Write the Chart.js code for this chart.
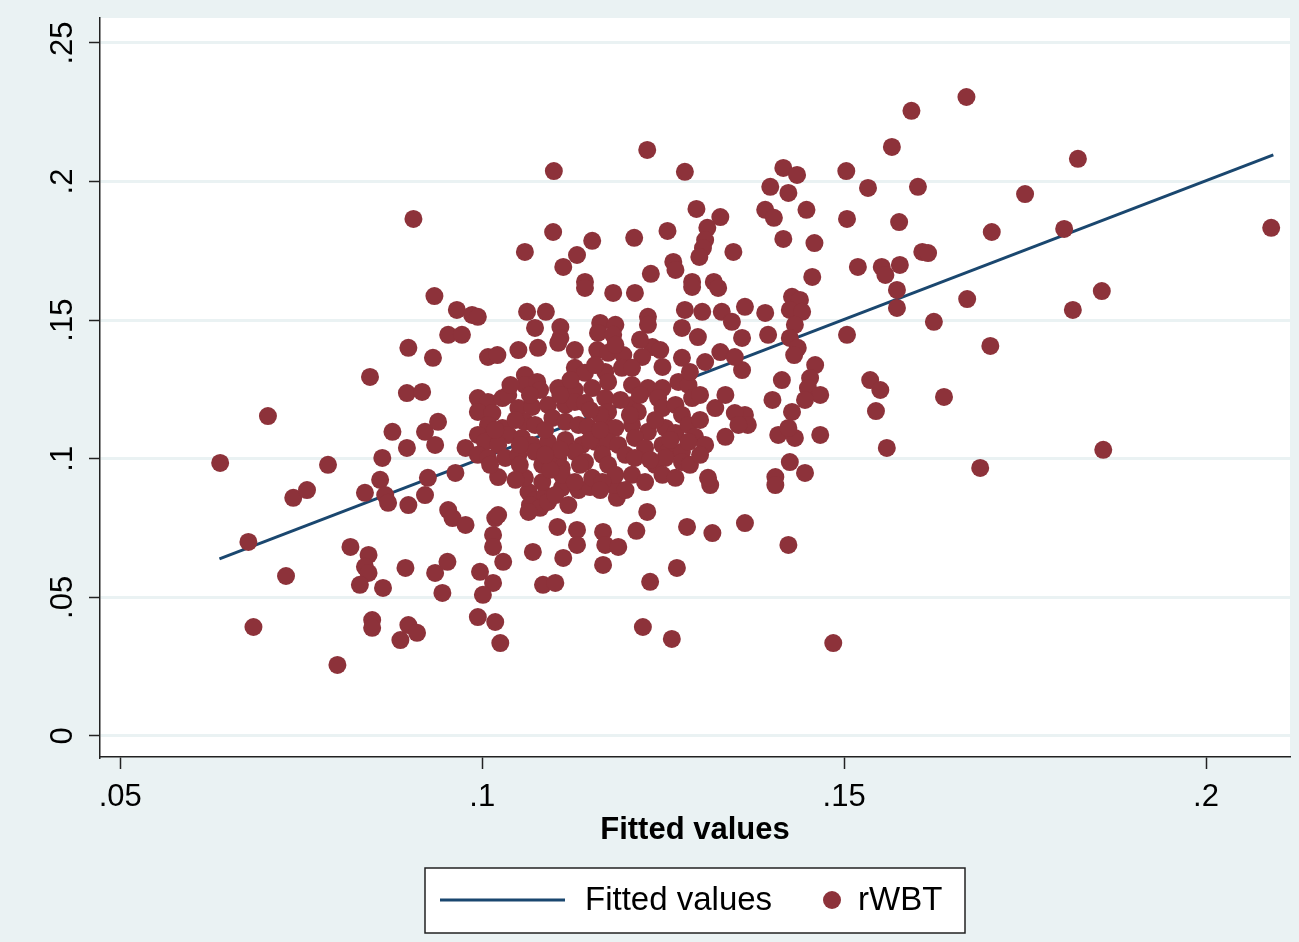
<!DOCTYPE html>
<html>
<head>
<meta charset="utf-8">
<script src="https://cdn.jsdelivr.net/npm/chart.js@4.4.1/dist/chart.umd.min.js"></script>
<style>
  html, body { margin: 0; padding: 0; background: #eaf2f3; }
  #wrap { width: 1299px; height: 942px; }
</style>
</head>
<body>
<div id="wrap"><canvas id="chart" width="1299" height="942"></canvas></div>
<script>
const xTicks = [0.05, 0.1, 0.15, 0.2];
const xTickLabels = [".05", ".1", ".15", ".2"];
const yTicks = [0, 0.05, 0.1, 0.15, 0.2, 0.25];
const yTickLabels = ["0", ".05", ".1", ".15", ".2", ".25"];

// fitted line, read at its two ends
const fitX = [0.0637, 0.2093];
const fitY = [0.0639, 0.2096];

// rWBT points [fitted value, rWBT]
const rwbt = [
  [.0638,.0985],[.0677,.0700],[.0684,.0393],[.0704,.1154],[.0729,.0577],[.0739,.0859],[.0758,.0887],[.0787,.0978],[.0800,.0256],[.0818,.0682],
  [.0838,.0877],[.0845,.1295],[.0843,.0653],[.0838,.0610],[.0843,.0588],[.0831,.0545],[.0863,.0534],[.0848,.0418],[.0848,.0390],[.0859,.0924],
  [.0862,.1003],[.0866,.0869],[.0870,.0841],[.0876,.1097],[.0887,.0346],[.0894,.0606],[.0898,.0833],[.0896,.1237],[.0898,.1400],[.0905,.1865],
  [.0898,.0400],[.0910,.0372],[.0896,.1039],[.0921,.1097],[.0917,.1241],[.0925,.0931],[.0921,.0869],[.0932,.1364],[.0934,.1587],[.0935,.0588],
  [.0952,.0628],[.0945,.0516],[.0939,.1133],[.0935,.1050],[.0953,.0815],[.0959,.0786],[.0953,.1447],[.0972,.1447],[.0965,.1537],[.0963,.0949],
  [.0977,.0761],[.0977,.1039],[.0986,.1519],
  [.1228,.2114],[.1099,.2038],[.1280,.2035],[.1296,.1901],[.1329,.1872],[.1098,.1818],[.1152,.1786],[.1210,.1797],[.1256,.1822],[.1059,.1746],
  [.1131,.1735],[.1112,.1692],[.1311,.1833],[.1308,.1789],[.1305,.1760],[.1300,.1728],[.1347,.1746],[.1264,.1710],[.1267,.1681],[.1233,.1667],
  [.1290,.1638],[.1320,.1638],[.1142,.1638],
  [.1669,.2305],[.1593,.2255],[.1566,.2125],[.1416,.2049],[.1435,.2024],[.1503,.2038],[.1398,.1981],[.1423,.1959],[.1533,.1977],[.1602,.1981],
  [.1391,.1898],[.1403,.1869],[.1448,.1898],[.1504,.1865],[.1576,.1854],[.1704,.1818],[.1416,.1793],[.1459,.1778],[.1608,.1746],[.1616,.1742],
  [.1519,.1692],[.1552,.1692],[.1557,.1663],[.1577,.1699],[.1456,.1656],
  [.1823,.2082],[.1750,.1955],[.1804,.1829],[.2090,.1833],[.1856,.1605],[.1816,.1537],[.1858,.1032],
  [.1573,.1609],[.1573,.1544],[.1670,.1576],[.1624,.1494],[.1702,.1407],[.1504,.1447],
  [.1428,.1584],[.1439,.1573],[.1425,.1537],[.1442,.1530],[.1432,.1483],[.1425,.1436],[.1436,.1400],[.1431,.1374],
  [.1391,.1526],[.1395,.1447],[.1363,.1548],[.1460,.1338],[.1414,.1284],[.1453,.1291],[.1450,.1255],[.1467,.1230],[.1446,.1212],[.1401,.1212],
  [.1428,.1169],[.1363,.1158],[.1367,.1122],[.1409,.1086],[.1432,.1075],[.1423,.1111],[.1467,.1086],[.1536,.1284],[.1550,.1248],[.1544,.1172],
  [.1638,.1223],[.1559,.1039],[.1425,.0988],[.1405,.0934],[.1446,.0949],[.1688,.0967],[.1359,.1320],
  [.1405,.0905],[.1363,.0768],[.1423,.0689],[.1485,.0335],
  [.1064,.0880],[.1073,.0851],[.1087,.0869],[.1066,.0833],[.1080,.0823],[.1091,.0844],[.1064,.0808],[.1119,.0833],[.1186,.0859],[.1228,.0808],
  [.1315,.0905],[.1104,.0754],[.1131,.0743],[.1131,.0689],[.1167,.0736],[.1170,.0689],[.1188,.0682],[.1213,.0740],[.1283,.0754],[.1318,.0732],
  [.1070,.0664],[.1112,.0642],[.1167,.0617],[.1269,.0606],[.1232,.0556],[.1084,.0545],[.1101,.0552],[.1018,.0786],[.1022,.0797],[.1015,.0725],
  [.1015,.0682],[.1029,.0628],[.0997,.0592],[.1015,.0552],[.1001,.0509],[.0994,.0429],[.1018,.0411],[.1025,.0335],[.1222,.0393],[.1262,.0350],
  [.1110,.0895],[.1133,.0887],[.1149,.0898],[.1181,.0905],
  [.1142,.1616],[.1181,.1598],[.1211,.1598],[.1290,.1620],[.1326,.1616],[.0994,.1512],[.1062,.1530],[.1088,.1530],[.1073,.1472],[.1108,.1475],
  [.1108,.1436],[.1163,.1490],[.1184,.1483],[.1160,.1454],[.1181,.1447],[.1229,.1512],[.1229,.1483],[.1280,.1537],[.1304,.1530],[.1331,.1530],
  [.1276,.1472],[.1298,.1439],[.1345,.1494],[.1359,.1436],[.1008,.1367],[.1021,.1374],[.1050,.1392],[.1077,.1400],[.1105,.1418],[.1128,.1392],
  [.1159,.1392],[.1174,.1382],[.1195,.1374],[.1235,.1403],[.1221,.1367],[.1249,.1331],[.1276,.1364],[.1308,.1349],[.1329,.1385],[.1349,.1367],
  [.1059,.1302],[.1059,.1266],[.1076,.1277],[.1128,.1328],[.1142,.1310],[.1170,.1313],[.1193,.1328],[.1207,.1328],[.1174,.1277],[.1105,.1255],
  [.1128,.1248],[.1152,.1255],[.1207,.1266],[.1229,.1255],[.1249,.1255],[.1271,.1277],[.1285,.1266],[.1290,.1219],[.0994,.1219],[.1008,.1205],
  [.1028,.1219],[.1036,.1230],[.0994,.1169],[.1014,.1165],[.1050,.1183],[.1069,.1187],[.1091,.1194],[.1115,.1194],[.1128,.1205],[.1142,.1201],
  [.1170,.1219],[.1174,.1169],[.1207,.1194],[.1215,.1169],[.1243,.1219],[.1249,.1183],[.1267,.1194],[.1276,.1158],[.1322,.1183],[.1349,.1165],
  [.1008,.1122],[.1028,.1111],[.1036,.1086],[.1059,.1133],[.1073,.1122],[.1097,.1147],[.1115,.1133],[.1133,.1122],[.1146,.1115],[.1170,.1122],
  [.1184,.1111],[.1207,.1122],[.1229,.1097],[.1253,.1111],[.1267,.1093],[.1285,.1122],[.1294,.1079],[.1336,.1079],[.1354,.1122],[.0994,.1086],
  [.1004,.1061],[.1022,.1050],[.1055,.1075],[.1069,.1050],[.1091,.1061],[.1115,.1068],[.1138,.1050],[.1156,.1061],[.1174,.1061],[.1188,.1050],
  [.1211,.1075],[.1225,.1039],[.1249,.1050],[.1257,.1025],[.1276,.1025],[.1285,.1061],[.0994,.1014],[.1008,.1003],[.1032,.1003],[.1050,.1014],
  [.1073,.1025],[.1083,.0978],[.1105,.1003],[.1110,.0967],[.1128,.1025],[.1142,.0988],[.1166,.1014],[.1174,.0978],[.1184,.0942],[.1198,.1014],
  [.1211,.1003],[.1239,.0978],[.1253,.1003],[.1276,.0988],[.1312,.0931],[.1022,.0934],[.1059,.0931],[.1083,.0916],[.1110,.0942],[.1128,.0916],
  [.1152,.0931],[.1166,.0916],[.1207,.0942],[.1225,.0916],[.1249,.0942],[.1267,.0931],
  [.1046,.1140],[.1087,.1104],[.1108,.1032],[.1149,.1068],[.1163,.1158],[.1191,.1212],[.1218,.1230],[.1239,.1140],[.1260,.1068],[.1301,.1140],
  [.1308,.1050],[.1135,.0978],[.1094,.0960],[.1052,.0978],[.1018,.1104],[.1039,.1266],[.1080,.1248],[.1122,.1284],[.1156,.1338],[.1184,.1411],
  [.1218,.1429],[.1246,.1392],[.1287,.1313],[.1301,.1230],[.1336,.1230],[.1163,.0887],[.1198,.0887],[.1101,.0869],[.1046,.0924],[.1011,.0978],
  [.1232,.0996],[.1287,.0978],[.1301,.1014],[.1204,.1158],[.1149,.1176],[.1108,.1230],[.1066,.1230],[.1052,.1050],[.1087,.1014],[.1163,.1104]
];

const BG = "#eaf2f3";
const NAVY = "#1a476f";
const MAROON = "#8d323a";
const FONT = "'Liberation Sans', Arial, sans-serif";

const stataLook = {
  id: "stataLook",
  beforeDraw(chart) {
    const { ctx, chartArea: a } = chart;
    ctx.save();
    ctx.fillStyle = BG;
    ctx.fillRect(0, 0, chart.width, chart.height);
    ctx.fillStyle = "#ffffff";
    ctx.fillRect(a.left, a.top, a.right - a.left, a.bottom - a.top);
    ctx.restore();
  },
  afterDraw(chart) {
    const ctx = chart.ctx;
    const ys = chart.scales.y;
    ctx.save();
    // vertical y tick labels
    ctx.fillStyle = "#000";
    ctx.font = "31px " + FONT;
    ctx.textAlign = "center";
    ctx.textBaseline = "middle";
    yTicks.forEach((v, i) => {
      ctx.save();
      ctx.translate(63, ys.getPixelForValue(v));
      ctx.rotate(-Math.PI / 2);
      ctx.fillText(yTickLabels[i], 0, 0);
      ctx.restore();
    });

    // legend box
    const ds = chart.data.datasets;
    ctx.fillStyle = "#ffffff";
    ctx.fillRect(425, 868, 540, 65);
    ctx.strokeStyle = "#222";
    ctx.lineWidth = 1.5;
    ctx.strokeRect(425, 868, 540, 65);

    ctx.strokeStyle = NAVY;
    ctx.lineWidth = 3;
    ctx.beginPath();
    ctx.moveTo(440, 900);
    ctx.lineTo(565, 900);
    ctx.stroke();

    ctx.fillStyle = MAROON;
    ctx.beginPath();
    ctx.arc(832, 900, 9, 0, Math.PI * 2);
    ctx.fill();

    ctx.fillStyle = "#000";
    ctx.font = "33px " + FONT;
    ctx.textAlign = "left";
    ctx.fillText(ds[1].label, 585, 901);
    ctx.fillText(ds[0].label, 858, 901);
    ctx.restore();
  }
};

new Chart(document.getElementById("chart"), {
  type: "scatter",
  data: {
    datasets: [
      {
        label: "rWBT",
        data: rwbt.map(p => ({ x: p[0], y: p[1] })),
        backgroundColor: MAROON,
        borderWidth: 0,
        pointRadius: 9,
        order: 0
      },
      {
        label: "Fitted values",
        data: fitX.map((x, i) => ({ x: x, y: fitY[i] })),
        showLine: true,
        borderColor: NAVY,
        borderWidth: 3,
        pointRadius: 0,
        order: 1
      }
    ]
  },
  options: {
    responsive: false,
    animation: false,
    devicePixelRatio: 1,
    layout: { padding: { left: 0, right: 9, top: 18, bottom: 85 } },
    plugins: { legend: { display: false }, tooltip: { enabled: false } },
    scales: {
      x: {
        type: "linear",
        min: 0.0472,
        max: 0.2116,
        afterBuildTicks: s => { s.ticks = xTicks.map(v => ({ value: v })); },
        afterFit: s => { s.height = 100; },
        ticks: {
          callback: (v, i) => xTickLabels[i],
          color: "#000",
          font: { family: FONT, size: 31 },
          padding: 10,
          maxRotation: 0
        },
        grid: { drawOnChartArea: false, drawTicks: true, tickLength: 12, color: "#222", tickWidth: 1.5 },
        border: { display: true, color: "#222", width: 1.5 },
        title: {
          display: true,
          text: "Fitted values",
          color: "#000",
          font: { family: FONT, size: 31, weight: "bold" },
          padding: { top: 0, bottom: 8 }
        }
      },
      y: {
        type: "linear",
        min: -0.0076,
        max: 0.259,
        afterBuildTicks: s => { s.ticks = yTicks.map(v => ({ value: v })); },
        afterFit: s => { s.width = 100; },
        ticks: { display: false },
        grid: { color: BG, lineWidth: 3, drawTicks: true, tickLength: 11, tickColor: "#222", tickWidth: 1.5 },
        border: { display: true, color: "#222", width: 1.5 }
      }
    }
  },
  plugins: [stataLook]
});
</script>
</body>
</html>
